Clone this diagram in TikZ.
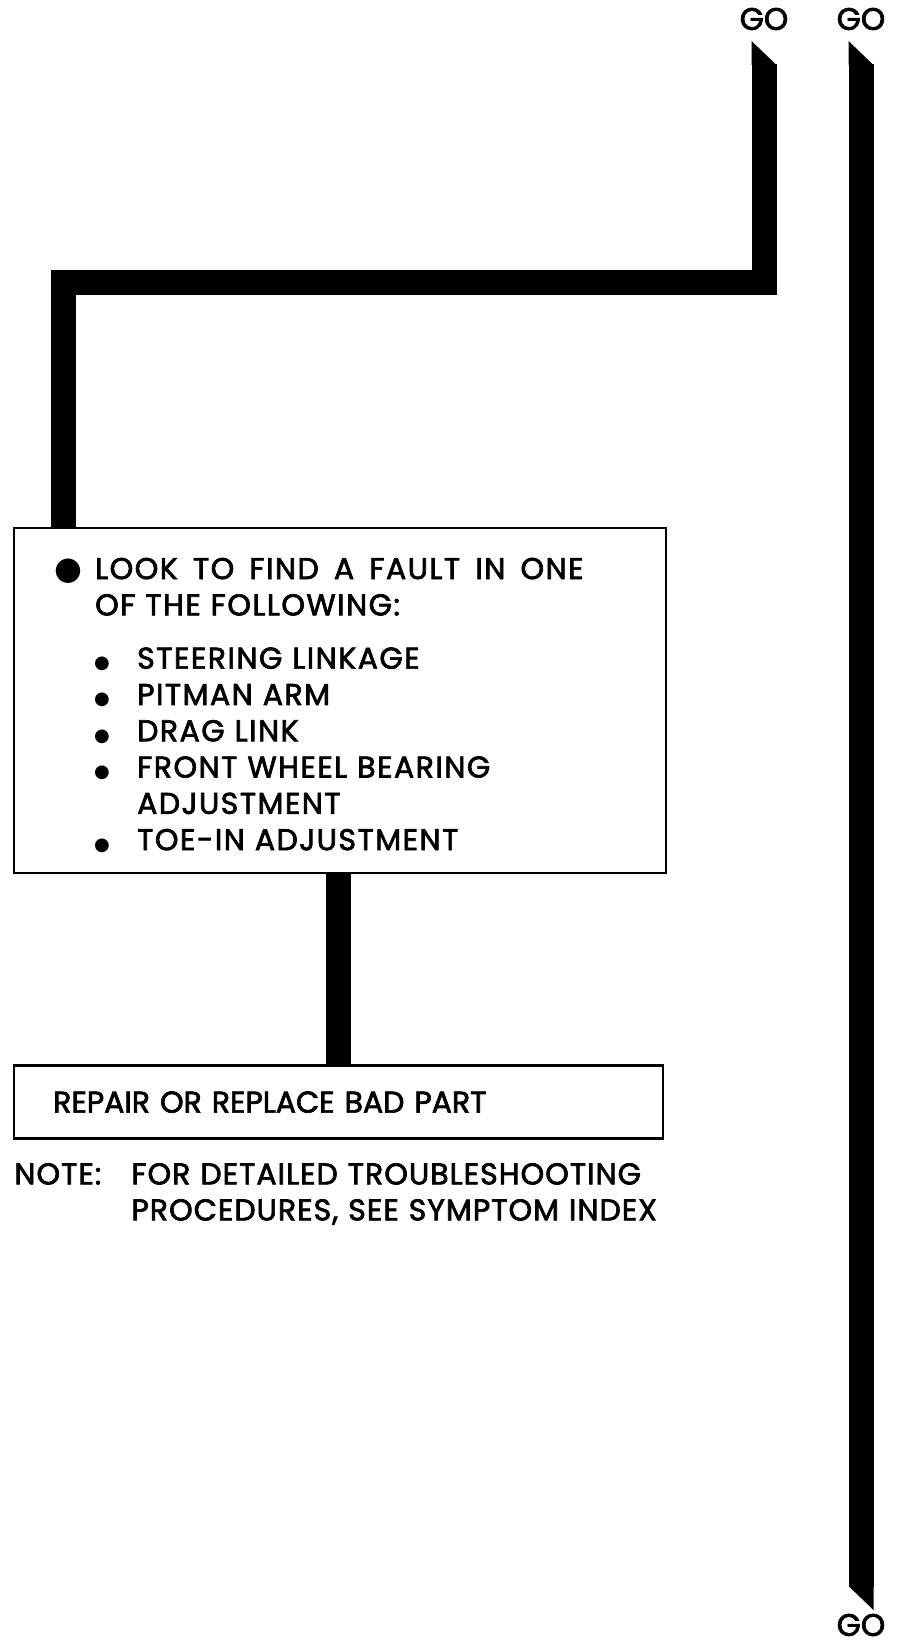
\documentclass[tikz,border=0pt]{standalone}
\usepackage{fontspec}
\setmainfont{Poppins}[FakeBold=2.3]
\newfontfamily\boxfont{Poppins}[FakeBold=2.3, LetterSpace=5]
\newfontfamily\notefont{Poppins}[FakeBold=2.3, LetterSpace=3.5]
\newfontfamily\dotfont{DejaVu Sans}
\usetikzlibrary{calc, positioning}

\begin{document}
\begin{tikzpicture}[x=0.5pt, y=-0.5pt,
        golabel/.style={inner sep=0pt, font=\fontsize{15.5}{16}\selectfont},
        faultbox/.style={rectangle, draw, line width=1.2pt, text width=286pt, inner xsep=20pt, inner ysep=0pt, minimum height=172.5pt, align=left, font=\boxfont\fontsize{15}{18.15}\selectfont},
        repairbox/.style={rectangle, draw, line width=1.2pt, text width=285.5pt, inner xsep=19.5pt, minimum height=36.5pt, align=left, font=\fontsize{15}{18}\selectfont},
        notetext/.style={inner sep=0pt, text width=330pt, align=left, font=\notefont\fontsize{15}{18}\selectfont},
        flowline/.style={draw=black, line width=12.5pt}]

        \useasboundingbox (0,0) rectangle (896,1644);

        \node [golabel] (goA) at (764,19) {GO};
        \node [golabel] (goB) at (861,19) {GO};
        \node [golabel] (goC) at (861,1625) {GO};

        \node [faultbox, anchor=north west] (fault) at (13,527) {\rule{0pt}{15pt}\makebox[20.5pt][l]{\dotfont\fontsize{16}{18}\selectfont ●}LOOK\ \hspace{2.6pt}TO\ \hspace{2.6pt}FIND\ \hspace{2.6pt}A\ \hspace{2.6pt}FAULT\ \hspace{2.6pt}IN\ \hspace{2.6pt}ONE\\
        \hspace*{20.5pt}OF THE FOLLOWING:\\[8.5pt]
        \hspace*{20pt}\makebox[21.5pt][l]{\dotfont\fontsize{9}{18}\selectfont ●}STEERING LINKAGE\\
        \hspace*{20pt}\makebox[21.5pt][l]{\dotfont\fontsize{9}{18}\selectfont ●}PITMAN ARM\\
        \hspace*{20pt}\makebox[21.5pt][l]{\dotfont\fontsize{9}{18}\selectfont ●}DRAG LINK\\
        \hspace*{20pt}\makebox[21.5pt][l]{\dotfont\fontsize{9}{18}\selectfont ●}FRONT WHEEL BEARING\\
        \hspace*{41.5pt}ADJUSTMENT\\
        \hspace*{20pt}\makebox[21.5pt][l]{\dotfont\fontsize{9}{18}\selectfont ●}TOE-IN ADJUSTMENT};

        \node [repairbox, below=95pt of fault.south west, anchor=north west] (repair) {REPAIR OR REPLACE BAD PART};

        \node [notetext, below=11.5pt of repair.south west, anchor=north west, xshift=0.5pt] (note) {\makebox[58.5pt][l]{NOTE:}FOR DETAILED TROUBLESHOOTING\\
        \hspace*{58.5pt}PROCEDURES, SEE SYMPTOM INDEX};

        % bar ends cut on the slant
        \coordinate (capA) at ($(goA)+(0,45)$);
        \coordinate (capB) at ($(goB)+(0,45)$);
        \coordinate (capC) at ($(goC)+(0,-38)$);
        \coordinate (bend) at (63,282);
        \coordinate (drop) at ($(fault.south)+(-2,0)$);

        \path [flowline] (capA) |- (bend) -- (bend |- fault.north);
        \path [flowline] (drop) -- (drop |- repair.north);
        \path [flowline] (capB) -- (capC);

        \fill (capA) ++(-12.5,1) -- ++(25,0) -- ++(-25,-24) -- cycle;
        \fill (capB) ++(-12.5,1) -- ++(25,0) -- ++(-25,-24) -- cycle;
        \fill (capC) ++(-12.5,-1) -- ++(25,0) -- ++(0,24) -- cycle;
    \end{tikzpicture}
\end{document}
